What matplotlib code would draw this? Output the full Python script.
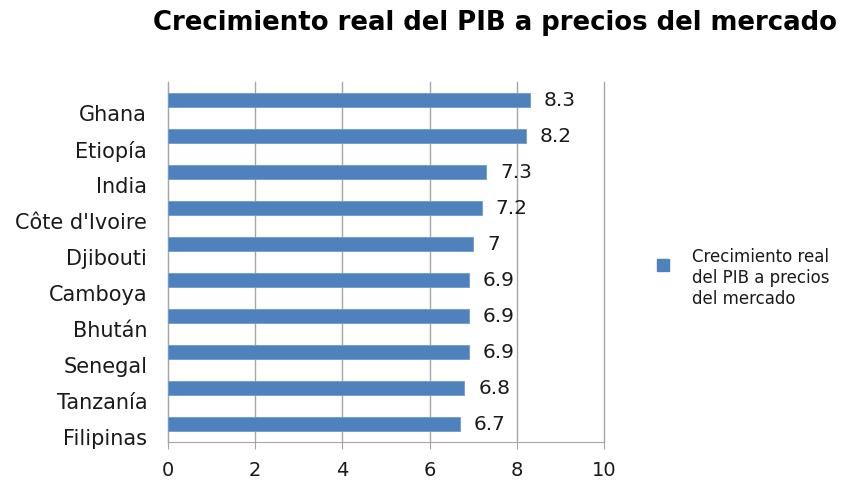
import matplotlib.pyplot as plt
from matplotlib.transforms import ScaledTranslation

countries = ['Ghana', 'Etiopía', 'India', "Côte d'Ivoire", 'Djibouti',
             'Camboya', 'Bhután', 'Senegal', 'Tanzanía', 'Filipinas']
growth = [8.3, 8.2, 7.3, 7.2, 7.0, 6.9, 6.9, 6.9, 6.8, 6.7]
value_labels = ['8.3', '8.2', '7.3', '7.2', '7', '6.9', '6.9', '6.9', '6.8', '6.7']
x_ticks = [0, 2, 4, 6, 8, 10]

bar_color = '#4F81BD'
grid_color = '#A6A6A6'
text_color = '#1a1a1a'

fig = plt.figure(figsize=(8.5, 4.83), dpi=100)
ax = fig.add_axes([0.1976, 0.0849, 0.513, 0.745])

pos = list(range(len(countries)))[::-1]
ax.barh(pos, growth, height=0.39, color=bar_color, edgecolor='#6f9bd1',
        linewidth=0.6, zorder=3)

for y, v, lab in zip(pos, growth, value_labels):
    ax.annotate(lab, (v, y), xytext=(10, 0), textcoords='offset points',
                va='center', ha='left', fontsize=14.5, color=text_color)

ax.set_xlim(0, 10)
ax.set_ylim(-0.5, len(countries) - 0.5)
ax.set_xticks(x_ticks)
ax.set_xticklabels([str(t) for t in x_ticks], fontsize=14, color=text_color)
ax.set_yticks(pos)
ax.set_yticklabels(countries, fontsize=15, color=text_color)
ax.tick_params(axis='y', length=0, pad=15)
ax.tick_params(axis='x', length=5, color=grid_color, pad=9, direction='out')

# category labels sit a bit below their bars, as in the original
shift = ScaledTranslation(0, -0.13, fig.dpi_scale_trans)
for lab in ax.get_yticklabels():
    lab.set_transform(lab.get_transform() + shift)

ax.grid(axis='x', color=grid_color, linewidth=1, zorder=0)
for gl in ax.get_xgridlines():
    gl.set_clip_on(False)
for side in ['top', 'right']:
    ax.spines[side].set_visible(False)
for side in ['left', 'bottom']:
    ax.spines[side].set_color(grid_color)

fig.text(0.582, 0.952, 'Crecimiento real del PIB a precios del mercado',
         ha='center', va='center', fontsize=18.7, fontweight='bold')

# legend
fig.patches.append(plt.Rectangle((0.773, 0.438), 0.014, 0.025,
                                 transform=fig.transFigure, color=bar_color))
fig.text(0.814, 0.424, 'Crecimiento real\ndel PIB a precios\ndel mercado',
         ha='left', va='center', fontsize=12, linespacing=1.2,
         color=text_color)

fig.savefig('out.png', dpi=100)
